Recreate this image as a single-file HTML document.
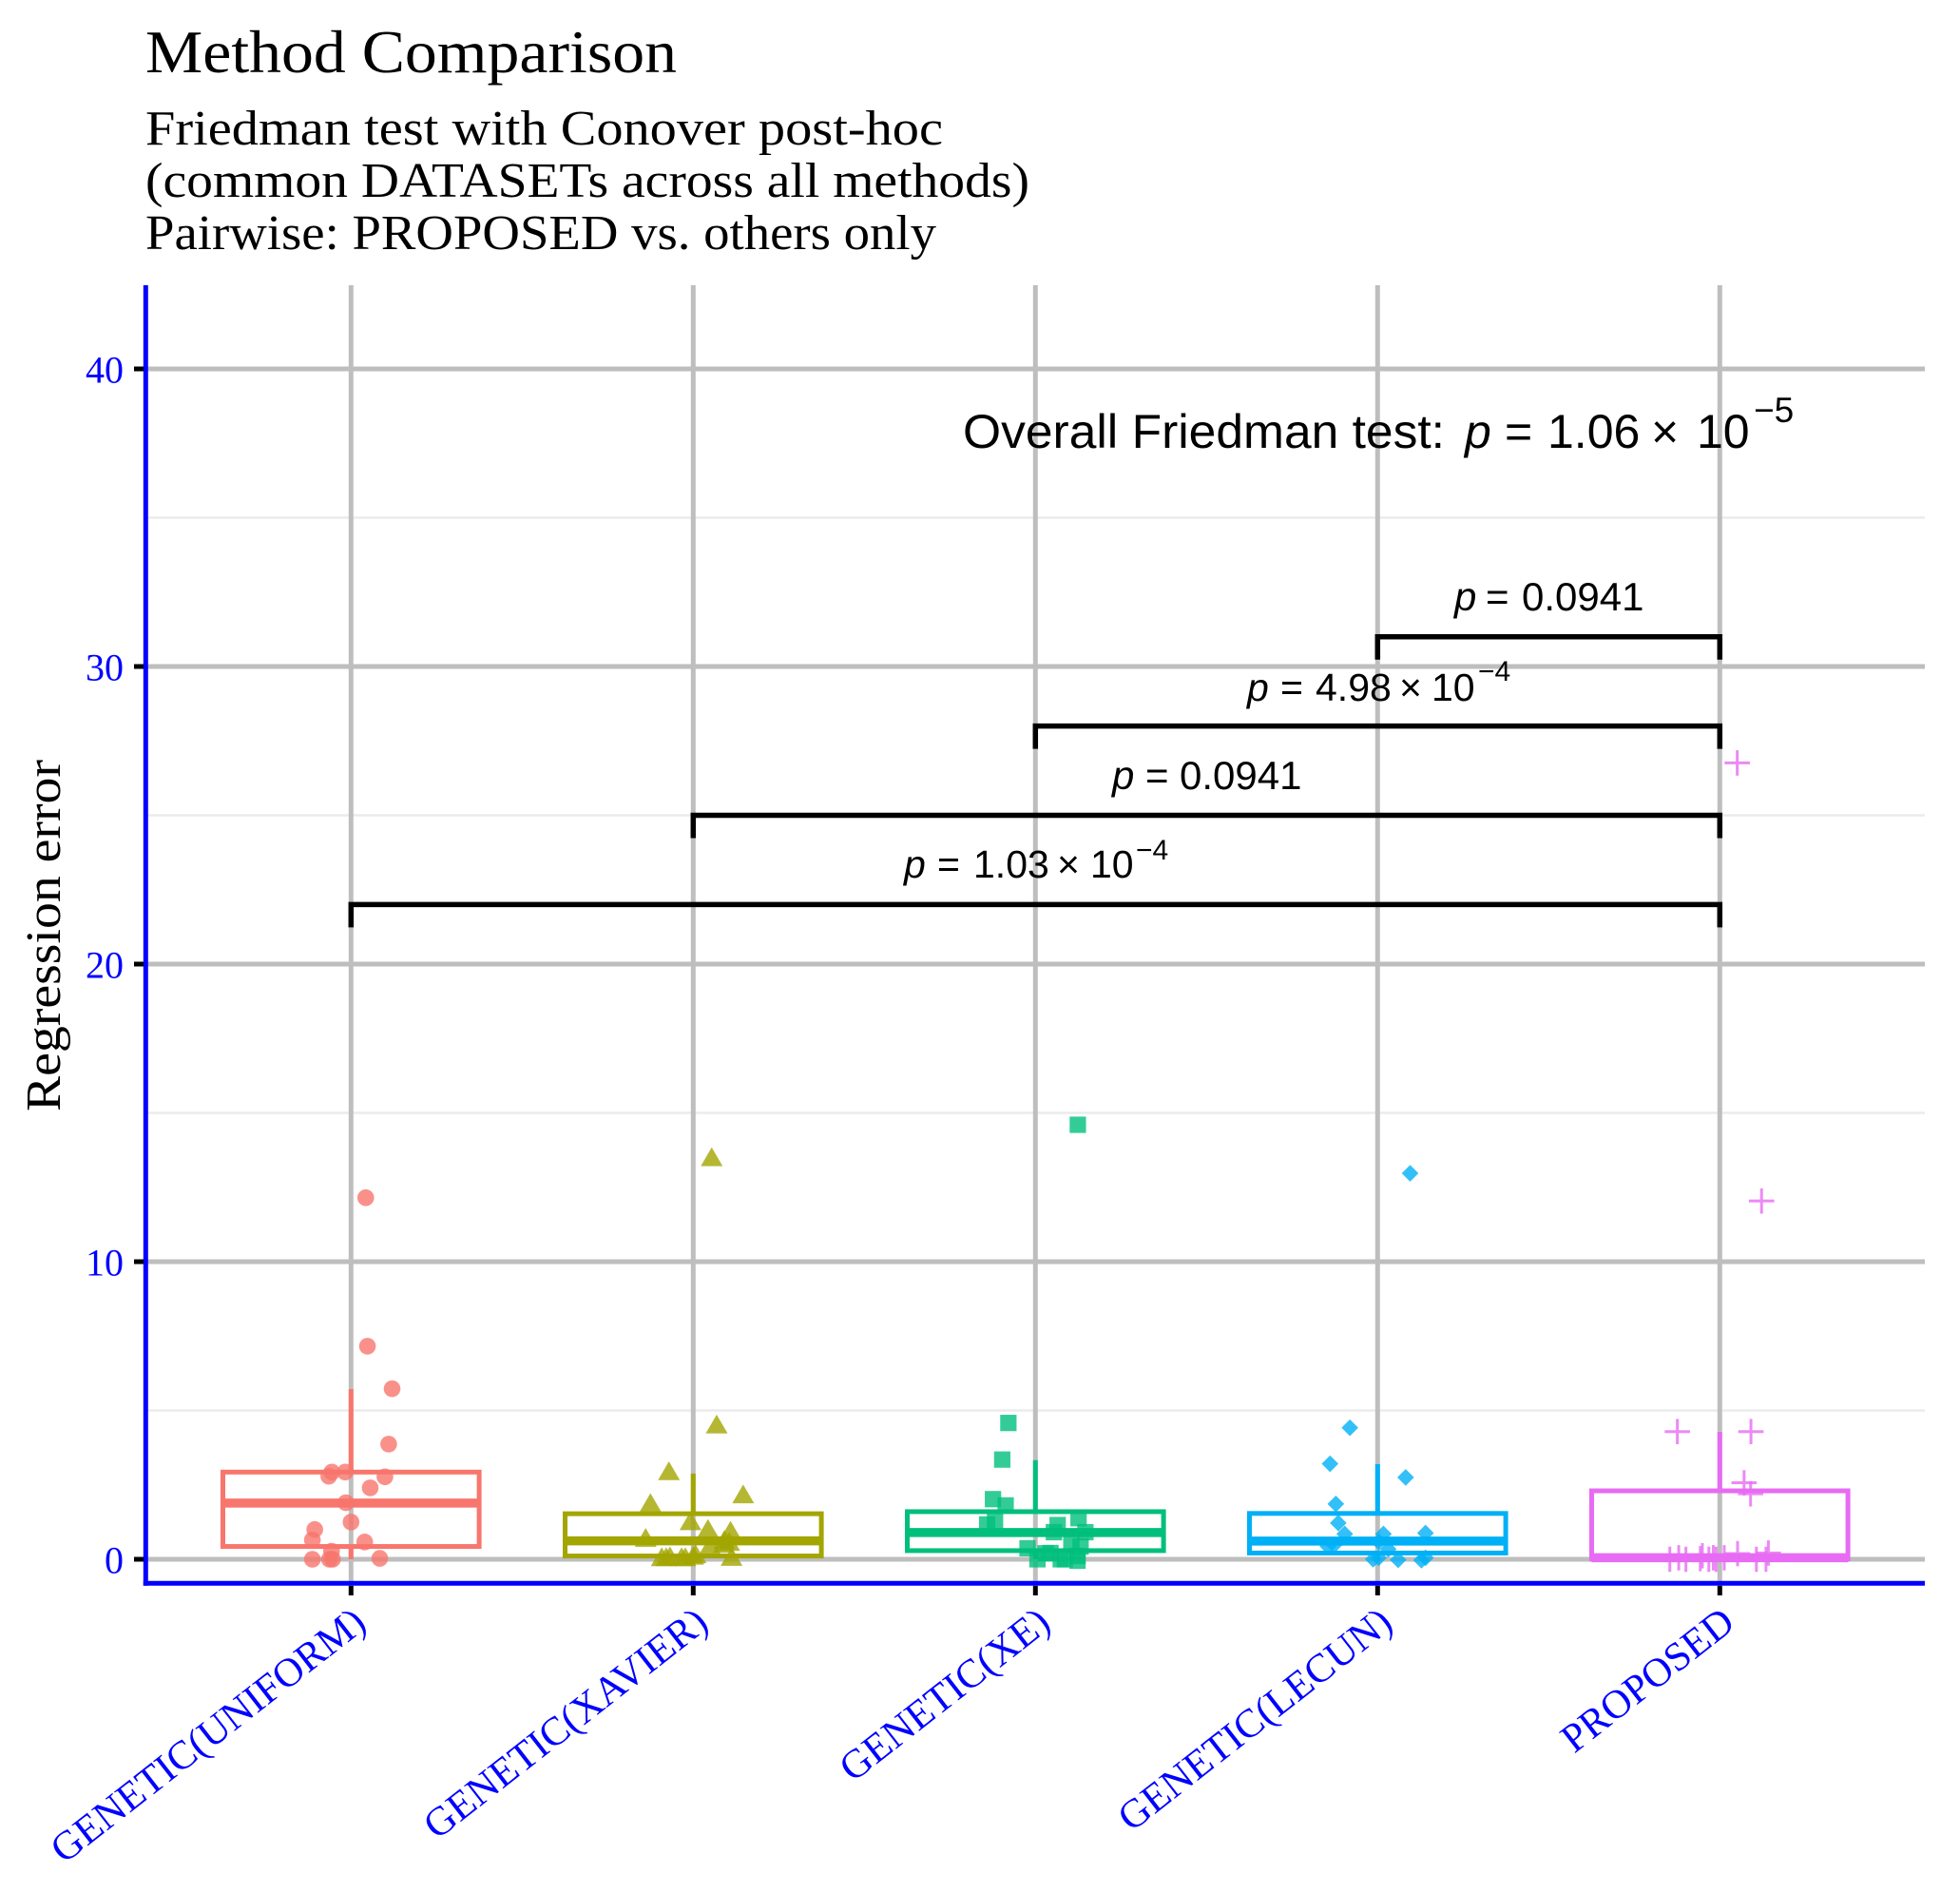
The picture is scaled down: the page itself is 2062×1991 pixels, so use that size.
<!DOCTYPE html>
<html lang="en">
<head>
<meta charset="utf-8">
<title>Method Comparison</title>
<style>
html,body{margin:0;padding:0;background:#fff;width:2062px;height:1991px;overflow:hidden}
svg{display:block}
.serif{font-family:"Liberation Serif",serif}
.sans{font-family:"Liberation Sans",sans-serif;fill:#000}
.it{font-style:italic}
</style>
</head>
<body>
<svg id="chart" width="2062" height="1991" viewBox="0 0 2062 1991" xmlns="http://www.w3.org/2000/svg">
  <rect x="0" y="0" width="2062" height="1991" fill="#fff"/>
  <text class="serif" x="153" y="76" font-size="63" textLength="559" lengthAdjust="spacingAndGlyphs">Method Comparison</text>
  <text class="serif" x="153" y="152" font-size="52" textLength="839" lengthAdjust="spacingAndGlyphs">Friedman test with Conover post-hoc</text>
  <text class="serif" x="153" y="207" font-size="52" textLength="930" lengthAdjust="spacingAndGlyphs">(common DATASETs across all methods)</text>
  <text class="serif" x="153" y="262" font-size="52" textLength="832" lengthAdjust="spacingAndGlyphs">Pairwise: PROPOSED vs. others only</text>
  <text class="serif" transform="translate(63,984) rotate(-90)" text-anchor="middle" font-size="52" textLength="370" lengthAdjust="spacingAndGlyphs">Regression error</text>
  <g id="plot"></g>
  <g>
    <text class="sans" y="471" font-size="50"><tspan x="1013" textLength="507" lengthAdjust="spacingAndGlyphs">Overall Friedman test:</tspan><tspan class="it" x="1541">p</tspan><tspan x="1583">=</tspan><tspan x="1628">1.06</tspan><tspan x="1737">×</tspan><tspan x="1785">10</tspan><tspan x="1845" y="444" font-size="37">−5</tspan></text>
    <text class="sans" y="642" font-size="42"><tspan class="it" x="1530">p</tspan><tspan x="1563">=</tspan><tspan x="1601">0.0941</tspan></text>
    <text class="sans" y="737" font-size="41"><tspan class="it" x="1312">p</tspan><tspan x="1347">=</tspan><tspan x="1384">4.98</tspan><tspan x="1472">×</tspan><tspan x="1506">10</tspan><tspan x="1555" y="716" font-size="30">−4</tspan></text>
    <text class="sans" y="830" font-size="42"><tspan class="it" x="1170">p</tspan><tspan x="1205">=</tspan><tspan x="1241">0.0941</tspan></text>
    <text class="sans" y="923" font-size="41"><tspan class="it" x="951">p</tspan><tspan x="986">=</tspan><tspan x="1024">1.03</tspan><tspan x="1112">×</tspan><tspan x="1147">10</tspan><tspan x="1195" y="904" font-size="30">−4</tspan></text>
  </g>
</svg>
<script>
const categories = ['GENETIC(UNIFORM)', 'GENETIC(XAVIER)', 'GENETIC(XE)', 'GENETIC(LECUN)', 'PROPOSED'];
const colors = ['#F8766D', '#A3A500', '#00BF7D', '#00B0F6', '#E76BF3'];
const shapes = ['circle', 'triangle', 'square', 'diamond', 'plus'];
const yMajorTicks = [0, 10, 20, 30, 40];
const yMinorTicks = [5, 15, 25, 35];

const whiskerLow = [0, 0, 0, 0, 0];
const q1 = [0.43, 0.11, 0.29, 0.21, 0.0];
const median = [1.89, 0.62, 0.90, 0.61, 0.05];
const q3 = [2.93, 1.53, 1.60, 1.54, 2.30];
const whiskerHigh = [5.72, 2.88, 3.33, 3.20, 4.28];

const uniformJitter = [.043,.048,.120,.110,-.056,-.065,-.017,.099,.056,-.015,0,-.106,-.113,.04,-.057,-.113,-.063,-.054,.084];
const uniformValues = [12.15,7.16,5.73,3.87,2.93,2.79,2.93,2.77,2.40,1.90,1.25,1.0,.65,.58,.27,0,0,0,.03];
const xavierJitter = [.054,.0685,-.071,.146,-.125,-.008,-.139,.043,.109,.091,.105,.049,-.092,-.068,-.079,-.023,0,.007,-.034,.112,.09];
const xavierValues = [13.42,4.44,2.87,2.09,1.80,1.19,.63,.93,.87,.56,.50,.37,-.02,.01,-.02,-.02,.03,.08,-.02,-.01,.43];
const xeJitter = [.124,-.079,-.097,-.124,-.087,-.141,-.118,.126,.065,.054,.146,.105,.132,-.023,.044,.123,.006,.074,.086,.123,.03];
const xeValues = [14.6,4.58,3.35,2.02,1.81,1.17,1.28,1.38,1.15,.91,.91,.62,.43,.37,.21,.11,0,0,0,-.05,.2];
const lecunJitter = [.095,-.081,-.139,.082,-.122,-.115,-.096,-.127,-.145,.017,.003,.031,.14,-.013,.003,.06,.128,.14];
const lecunValues = [12.97,4.42,3.21,2.75,1.86,1.22,.85,.48,.43,.85,.59,.34,.88,0,.05,-.02,-.03,.05];
const proposedJitter = [.051,.122,-.124,.091,.071,.09,-.146,-.12,-.099,-.057,-.051,-.032,-.019,-.011,.013,.052,.107,.135,.142];
const proposedValues = [26.76,12.04,4.29,4.29,2.57,2.2,0,.05,0,.02,.12,0,.05,0,.05,.19,0,0,.21];
const pointJitter = [uniformJitter, xavierJitter, xeJitter, lecunJitter, proposedJitter];
const pointValues = [uniformValues, xavierValues, xeValues, lecunValues, proposedValues];

const bracketLevels = [31, 28, 25, 22];
const bracketStarts = [3, 2, 1, 0];
const bracketEnds = [4, 4, 4, 4];

const NS = 'http://www.w3.org/2000/svg';
const plot = document.getElementById('plot');
const panelLeft = 153.3, panelRight = 2025, panelTop = 300, panelBottom = 1665.3;
function xScale(i) { return 369.3 + i * 360; }
function yScale(v) { return 1640 - v * 31.3; }
function make(tag, attrs, parent) {
  const el = document.createElementNS(NS, tag);
  for (const k in attrs) el.setAttribute(k, attrs[k]);
  (parent || plot).appendChild(el);
  return el;
}

yMinorTicks.forEach(v => {
  const el = make('line', {x1: panelLeft, x2: panelRight, y1: yScale(v), y2: yScale(v), stroke: '#ebebeb', 'stroke-width': 2.4});
  
  
});
yMajorTicks.forEach(v => {
  const el = make('line', {x1: panelLeft, x2: panelRight, y1: yScale(v), y2: yScale(v), stroke: '#bebebe', 'stroke-width': 5});
  
  
});
categories.forEach((c, i) => {
  const el = make('line', {x1: xScale(i), x2: xScale(i), y1: panelTop, y2: panelBottom, stroke: '#bebebe', 'stroke-width': 5});
  
  
});

categories.forEach((c, i) => {
  const g = make('g', {});
  
  
  const x = xScale(i), hw = 134.8, col = colors[i];
  const up = make('line', {x1: x, x2: x, y1: yScale(q3[i]), y2: yScale(whiskerHigh[i]), stroke: col, 'stroke-width': 5}, g);
  
  
  const low = make('line', {x1: x, x2: x, y1: yScale(q1[i]), y2: yScale(whiskerLow[i]), stroke: col, 'stroke-width': 5}, g);
  
  
  const box = make('rect', {x: x - hw, y: yScale(q3[i]), width: 2 * hw, height: yScale(q1[i]) - yScale(q3[i]), fill: 'none', stroke: col, 'stroke-width': 5}, g);
  
  
  const med = make('line', {x1: x - hw, x2: x + hw, y1: yScale(median[i]), y2: yScale(median[i]), stroke: col, 'stroke-width': 9.5}, g);
  
  
});

function drawPoint(shape, cx, cy, col, parent) {
  if (shape === 'circle') return make('circle', {cx: cx, cy: cy, r: 8.8, fill: col, 'fill-opacity': .8}, parent);
  if (shape === 'triangle') {
    const r = 13.2, s = 11.5;
    return make('path', {d: `M${cx} ${cy - r}L${cx + s} ${cy + r / 2}L${cx - s} ${cy + r / 2}Z`, fill: col, 'fill-opacity': .8}, parent);
  }
  if (shape === 'square') return make('rect', {x: cx - 8.6, y: cy - 8.6, width: 17.2, height: 17.2, fill: col, 'fill-opacity': .8}, parent);
  if (shape === 'diamond') {
    const d = 8.8;
    return make('path', {d: `M${cx} ${cy - d}L${cx + d} ${cy}L${cx} ${cy + d}L${cx - d} ${cy}Z`, fill: col, 'fill-opacity': .8}, parent);
  }
  const a = 13.3;
  return make('path', {d: `M${cx - a} ${cy}H${cx + a}M${cx} ${cy - a}V${cy + a}`, fill: 'none', stroke: col, 'stroke-width': 3, 'stroke-opacity': .8}, parent);
}
categories.forEach((c, i) => {
  const g = make('g', {});
  
  
  pointValues[i].forEach((v, j) => {
    const el = drawPoint(shapes[i], xScale(i + pointJitter[i][j]), yScale(v), colors[i], g);
    
    
  });
});

bracketLevels.forEach((lvl, i) => {
  const x1 = xScale(bracketStarts[i]), x2 = xScale(bracketEnds[i]), y = yScale(lvl);
  const el = make('path', {d: `M${x1} ${y + 24}V${y}H${x2}V${y + 24}`, fill: 'none', stroke: '#000', 'stroke-width': 5.5});
  
  
});

const axisY = make('line', {x1: panelLeft, x2: panelLeft, y1: panelTop, y2: panelBottom + 2.5, stroke: '#0000ff', 'stroke-width': 5});


const axisX = make('line', {x1: panelLeft - 2.5, x2: panelRight, y1: panelBottom, y2: panelBottom, stroke: '#0000ff', 'stroke-width': 5});



yMajorTicks.forEach(v => {
  const t = make('line', {x1: 141, x2: 151, y1: yScale(v), y2: yScale(v), stroke: '#000', 'stroke-width': 5});
  
  
  const l = make('text', {x: 130, y: yScale(v) + 14.5, 'text-anchor': 'end', 'font-size': 40, fill: '#0000ff', class: 'serif'});
  l.textContent = String(v);
  
  
});
categories.forEach((c, i) => {
  const t = make('line', {x1: xScale(i), x2: xScale(i), y1: panelBottom + 2.5, y2: 1678, stroke: '#000', 'stroke-width': 5});
  
  
  const ex = xScale(i) + 18, ey = 1711;
  const l = make('text', {transform: `translate(${ex},${ey}) rotate(-38)`, 'text-anchor': 'end', 'font-size': 42.5, fill: '#0000ff', class: 'serif'});
  l.textContent = c;
  
  
});
</script>
</body>
</html>
